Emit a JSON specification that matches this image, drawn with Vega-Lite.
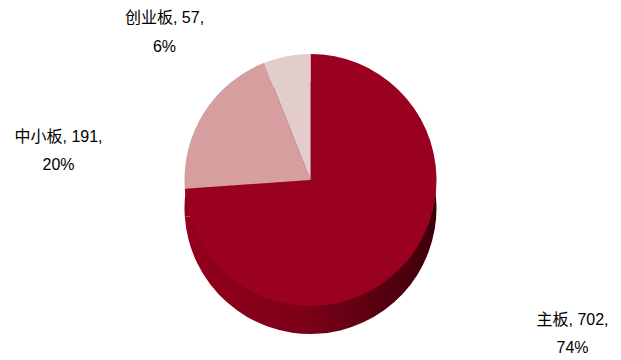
{
  "$schema": "https://vega.github.io/schema/vega-lite/v6.json",
  "width": 621,
  "height": 360,
  "autosize": {"type": "fit", "contains": "padding"},
  "padding": 0,
  "background": "white",
  "data": {
    "values": [
      {"board": "主板", "value": 702, "label": ["主板, 702,", "74%"]},
      {"board": "中小板", "value": 191, "label": ["中小板, 191,", "20%"]},
      {"board": "创业板", "value": 57, "label": ["创业板, 57,", "6%"]}
    ]
  },
  "encoding": {
    "theta": {"field": "value", "type": "quantitative", "stack": true},
    "order": {"field": "value", "sort": "descending"}
  },
  "layer": [
    {
      "mark": {
        "type": "arc",
        "outerRadius": 126,
        "yOffset": 28,
        "stroke": null,
        "fill": {
          "gradient": "linear",
          "x1": 0, "y1": 0, "x2": 1, "y2": 0,
          "stops": [
            {"offset": 0, "color": "#94001e"},
            {"offset": 0.5, "color": "#7a0018"},
            {"offset": 1, "color": "#3c0008"}
          ]
        }
      }
    },
    {
      "mark": {"type": "arc", "outerRadius": 126, "stroke": null},
      "encoding": {
        "color": {
          "field": "board",
          "type": "nominal",
          "scale": {"domain": ["主板", "中小板", "创业板"], "range": ["#9a0020", "#d69e9e", "#e3cccc"]},
          "legend": null
        }
      }
    },
    {
      "transform": [{"filter": "datum.board === '创业板'"}],
      "mark": {
        "type": "text", "radius": 0, "dx": -146, "dy": -162,
        "fontSize": 16, "font": "Liberation Sans, Noto Sans CJK SC", "color": "#000000",
        "align": "center", "baseline": "middle", "lineHeight": 29
      },
      "encoding": {"text": {"field": "label"}}
    },
    {
      "transform": [{"filter": "datum.board === '中小板'"}],
      "mark": {
        "type": "text", "radius": 0, "dx": -252, "dy": -43,
        "fontSize": 16, "font": "Liberation Sans, Noto Sans CJK SC", "color": "#000000",
        "align": "center", "baseline": "middle", "lineHeight": 28
      },
      "encoding": {"text": {"field": "label"}}
    },
    {
      "transform": [{"filter": "datum.board === '主板'"}],
      "mark": {
        "type": "text", "radius": 0, "dx": 262, "dy": 140,
        "fontSize": 16, "font": "Liberation Sans, Noto Sans CJK SC", "color": "#000000",
        "align": "center", "baseline": "middle", "lineHeight": 28
      },
      "encoding": {"text": {"field": "label"}}
    }
  ]
}
